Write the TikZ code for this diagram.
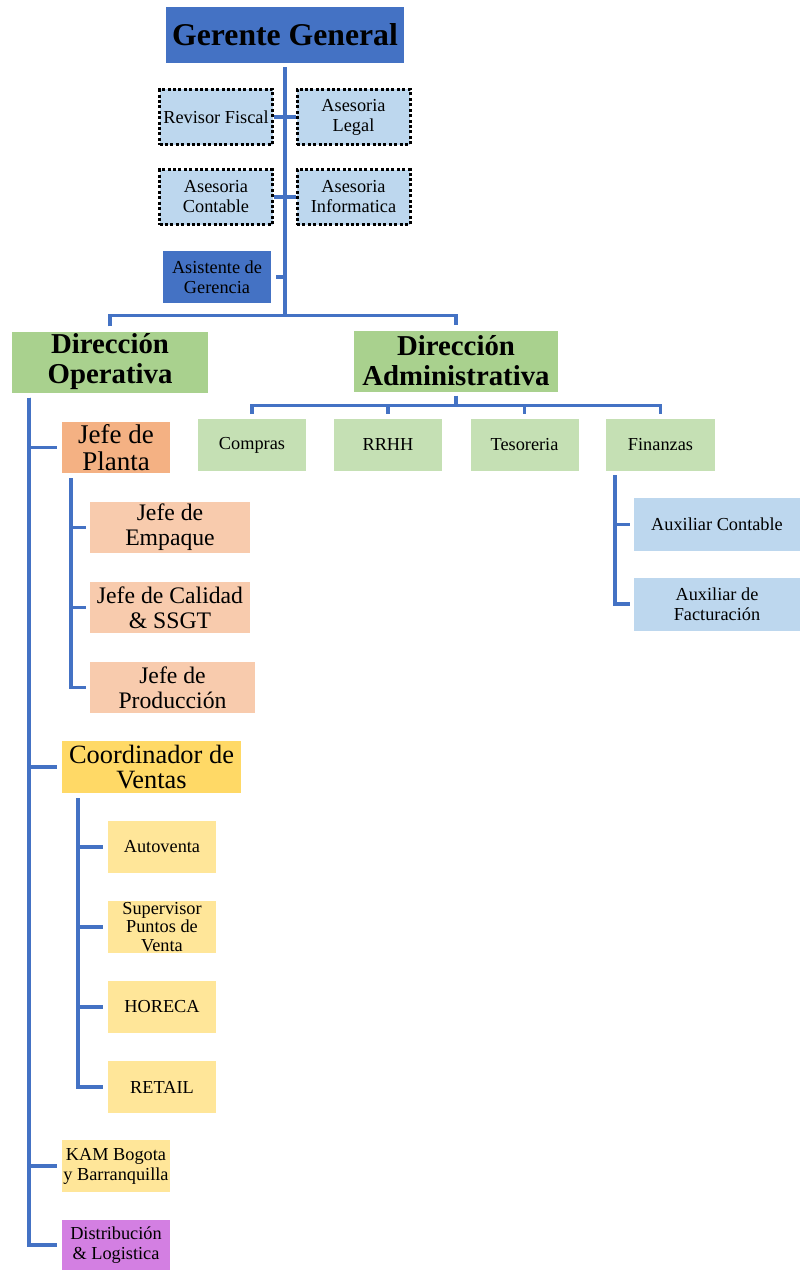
\documentclass[tikz,border=0pt]{standalone}
\usepackage{fontspec}
\setmainfont{Liberation Serif}
\usepackage{tikz}
\usetikzlibrary{calc}

\definecolor{orgblue}{RGB}{68,114,196}
\definecolor{paleblue}{RGB}{189,215,238}
\definecolor{dirgreen}{RGB}{169,209,142}
\definecolor{palegreen}{RGB}{197,224,180}
\definecolor{plantorange}{RGB}{244,177,131}
\definecolor{peach}{RGB}{248,203,173}
\definecolor{gold}{RGB}{255,217,102}
\definecolor{paleyellow}{RGB}{255,230,153}
\definecolor{violet}{RGB}{211,127,226}

\begin{document}
\begin{tikzpicture}[
        x=1pt, y=-1pt,
        org line/.style={line width=3.4pt, color=orgblue},
        box/.style={inner sep=0pt, align=center, text=black, minimum width=108pt, minimum height=52pt},
        small text/.style={font=\fontsize{18.3}{20}\selectfont},
        dir box/.style={box, fill=dirgreen, font=\bfseries\fontsize{28.8}{30}\selectfont, minimum height=61pt},
        advisor box/.style={box, small text, fill=paleblue, draw=black, line width=3pt, dash pattern=on 3pt off 2.4pt, minimum width=113pt, minimum height=55pt},
        area box/.style={box, small text, fill=palegreen},
        aux box/.style={box, small text, fill=paleblue, minimum width=166pt, minimum height=53pt},
        jefe box/.style={box, fill=peach, font=\fontsize{23.7}{25}\selectfont, minimum width=160pt, minimum height=51pt},
        ventas box/.style={box, small text, fill=paleyellow}
    ]
    \useasboundingbox (0,0) rectangle (800,1271);

    \node[box, fill=orgblue, font=\bfseries\fontsize{31.7}{34}\selectfont, minimum width=238pt, minimum height=56pt] (gg) at (285,35) {Gerente General};
    \node[advisor box] (rf) at (216,117) {Revisor Fiscal};
    \node[advisor box] (al) at (353.5,117) {Asesoria\\Legal};
    \node[advisor box] (ac) at (216,197) {Asesoria\\Contable};
    \node[advisor box] (ai) at (353.5,197) {Asesoria\\Informatica};
    \node[box, small text, fill=orgblue] (ag) at (217,277) {Asistente de\\Gerencia};

    \node[dir box, minimum width=196pt] (dop) at (110,362) {Dirección\\Operativa};
    \node[dir box, minimum width=204pt] (dad) at (456,361) {Dirección\\Administrativa};

    \node[area box] (compras) at (252,445) {Compras};
    \node[area box] (rrhh) at (388,445) {RRHH};
    \node[area box] (teso) at (524.5,445) {Tesoreria};
    \node[area box, minimum width=109pt] (fin) at (660.5,445) {Finanzas};
    \node[aux box] (auxc) at (717,524.5) {Auxiliar Contable};
    \node[aux box] (auxf) at (717,604) {Auxiliar de\\Facturación};

    \node[box, fill=plantorange, font=\fontsize{27}{27.5}\selectfont, minimum height=51pt] (jp) at (116,447.5) {Jefe de\\Planta};
    \node[jefe box] (je) at (170,527.5) {Jefe de\\Empaque};
    \node[jefe box] (jc) at (170,607.5) {Jefe de Calidad\\\& SSGT};
    \node[jefe box, minimum width=165pt] (jpr) at (172.5,687.5) {Jefe de\\Producción};

    \node[box, fill=gold, font=\fontsize{26.4}{25.5}\selectfont, minimum width=179pt] (cv) at (151.5,767) {Coordinador de\\Ventas};
    \node[ventas box] (av) at (162,847) {Autoventa};
    \node[ventas box, font=\fontsize{18.3}{18.5}\selectfont] (sp) at (162,927) {Supervisor\\Puntos de\\Venta};
    \node[ventas box] (ho) at (162,1007) {HORECA};
    \node[ventas box] (re) at (162,1087) {RETAIL};
    \node[ventas box] (kam) at (116,1166) {KAM Bogota\\y Barranquilla};
    \node[box, small text, fill=violet, minimum height=50pt] (dl) at (116,1245) {Distribución\\\& Logistica};

    \coordinate (bus) at ($(gg.south)+(0,252)$);
    \coordinate (abus) at ($(dad.south)+(0,14)$);
    \coordinate (opspine) at ($(dop.south west)+(17,5)$);
    \coordinate (jpspine) at ($(jp.south west)+(9,5)$);
    \coordinate (cvspine) at ($(cv.south west)+(16,5)$);
    \coordinate (finspine) at ($(fin.south west)+(9,4)$);

    \draw[org line, shorten <=4pt] (gg.south) -- (bus);
    \draw[org line] (rf.east) -- (al.west);
    \draw[org line] (ac.east) -- (ai.west);
    \draw[org line, shorten <=5pt] (ag.east) -- (ag.east -| bus);
    \draw[org line, shorten <=5pt, shorten >=5pt] (dop.north) |- (bus) -| (dad.north);

    \draw[org line, shorten <=4pt] (dad.south) -- (abus);
    \draw[org line, shorten <=5pt, shorten >=5pt] (compras.north) |- (abus) -| (fin.north);
    \foreach \n in {rrhh,teso}
        \draw[org line, shorten <=5pt] (\n.north) -- (\n.north |- abus);
    \foreach \n in {auxc,auxf}
        \draw[org line, shorten >=4pt] (finspine) |- (\n.west);

    \foreach \n in {jp,cv,kam,dl}
        \draw[org line, shorten >=5pt] (opspine) |- (\n.west);
    \foreach \n in {je,jc,jpr}
        \draw[org line, shorten >=4pt] (jpspine) |- (\n.west);
    \foreach \n in {av,sp,ho,re}
        \draw[org line, shorten >=5pt] (cvspine) |- (\n.west);
\end{tikzpicture}
\end{document}
